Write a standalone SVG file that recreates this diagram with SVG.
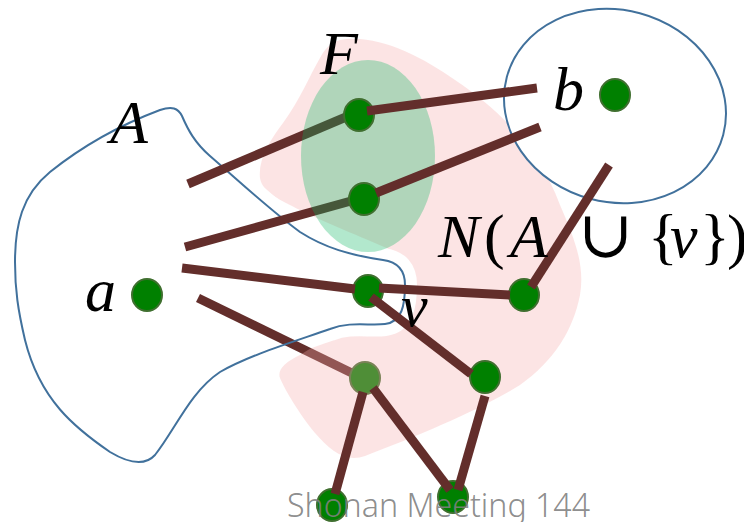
<svg xmlns="http://www.w3.org/2000/svg" width="744" height="522" viewBox="0 0 744 522">
<style>
.edge{stroke:#632e2b;stroke-width:9;fill:none;stroke-linecap:butt}
.node{fill:#008000;stroke:#3f6f2f;stroke-width:2}
.set{fill:none;stroke:#41719c;stroke-width:2}
.math{font-family:"Liberation Serif","DejaVu Serif",serif;font-style:italic;fill:#000}
.up{font-family:"Liberation Serif","DejaVu Serif",serif;font-style:normal;fill:#000}
</style>
<defs>
<path id="shapeA" d="M 15,262 C 15,225 22,195 50,172 C 80,148 120,125 160,110 C 172,106 178,108 182,116 C 188,130 195,143 210,156 C 240,182 270,210 300,232 C 325,248 350,255 383,260 C 398,262 405,270 405,285 C 405,305 402,322 385,324 C 370,326 350,321 330,329 C 290,343 250,355 220,372 C 190,392 175,430 155,455 C 145,466 130,464 110,452 C 75,428 40,400 25,340 C 18,310 15,290 15,262 Z"/>
<mask id="maskN" maskUnits="userSpaceOnUse" x="0" y="0" width="744" height="522">
<rect x="0" y="0" width="744" height="522" fill="#fff"/>
<use href="#shapeA" fill="#000" stroke="#000" stroke-width="24"/>
</mask>
</defs>

<g id="connectors-under">
<line class="edge" x1="198" y1="298" x2="358" y2="376"/>
</g>
<g id="node-w"><ellipse class="node" cx="365" cy="378" rx="15" ry="16"/></g>

<g id="region-N">
<path d="M 340,40 C 375,33 420,55 455,80 C 500,110 540,150 560,205 C 575,240 585,265 580,295 C 573,330 555,360 520,385 C 480,410 420,435 365,456 C 345,463 330,450 315,433 C 300,415 285,390 280,378 C 277,370 285,362 300,355 L 340,330 L 385,290 L 395,252 C 370,240 330,225 300,210 C 280,200 262,192 260,178 C 258,160 270,140 283,123 C 300,100 310,75 320,58 C 325,48 332,42 340,40 Z" fill="rgb(245,170,170)" fill-opacity="0.32" mask="url(#maskN)"/>
</g>

<g id="set-A">
<use href="#shapeA" class="set"/>
<text class="math" x="110" y="143" font-size="62">A</text>
</g>

<g id="set-b">
<ellipse cx="615" cy="106" rx="112" ry="96" transform="rotate(15 615 106)" fill="#fff" stroke="#41719c" stroke-width="2"/>
</g>

<g id="connectors-F">
<line class="edge" x1="188" y1="184" x2="346" y2="117"/>
<line class="edge" x1="185" y1="247" x2="351" y2="201"/>
</g>

<g id="set-F">
<ellipse cx="368" cy="156" rx="67" ry="96" fill="#06b45e" fill-opacity="0.31"/>
<text class="math" x="320" y="74" font-size="62">F</text>
</g>

<g id="node-b"><ellipse class="node" cx="615" cy="95" rx="15" ry="16"/></g>
<g id="node-a"><ellipse class="node" cx="147" cy="295" rx="15" ry="16"/></g>
<g id="node-f1"><ellipse class="node" cx="359" cy="115" rx="15" ry="16"/></g>
<g id="node-f2"><ellipse class="node" cx="364" cy="199" rx="15" ry="16"/></g>
<g id="node-v"><ellipse class="node" cx="368" cy="291" rx="15" ry="16"/></g>
<g id="node-n"><ellipse class="node" cx="524" cy="295" rx="15" ry="16"/></g>
<g id="node-x"><ellipse class="node" cx="485" cy="377" rx="15" ry="16"/></g>
<g id="node-y"><ellipse class="node" cx="332" cy="505" rx="15" ry="16"/></g>
<g id="node-z"><ellipse class="node" cx="453" cy="497" rx="15" ry="16"/></g>

<g id="connectors">
<line class="edge" x1="367" y1="111" x2="537" y2="88"/>
<line class="edge" x1="376" y1="193" x2="540" y2="127"/>
<line class="edge" x1="609" y1="165" x2="531" y2="287"/>
<line class="edge" x1="182" y1="268" x2="355" y2="289"/>
<line class="edge" x1="379" y1="288" x2="510" y2="295"/>
<line class="edge" x1="371" y1="297" x2="471" y2="374"/>
<line class="edge" x1="363" y1="392" x2="335" y2="494"/>
<line class="edge" x1="373" y1="388" x2="450" y2="490"/>
<line class="edge" x1="485" y1="396" x2="458" y2="490"/>
</g>

<g id="labels">
<text class="math" x="85" y="311" font-size="62">a</text>
<text class="math" x="553" y="110" font-size="62">b</text>
<text class="math" x="401" y="326" font-size="60" fill="#333">v</text>
<text x="438" y="257" font-size="62"><tspan class="math" x="438">N</tspan><tspan class="up" x="484">(</tspan><tspan class="math" x="510">A</tspan><tspan class="up" x="578" font-family="DejaVu Sans, sans-serif" font-size="66">∪</tspan><tspan class="up" x="648">{</tspan><tspan class="math" x="670">v</tspan><tspan class="up" x="700">}</tspan><tspan class="up" x="727">)</tspan></text>
</g>

<text id="footer" x="287" y="517" font-family="Noto Sans, Liberation Sans, sans-serif" font-weight="300" font-size="33" fill="#808080" fill-opacity="0.9" textLength="303" lengthAdjust="spacingAndGlyphs">Shonan Meeting 144</text>
</svg>
